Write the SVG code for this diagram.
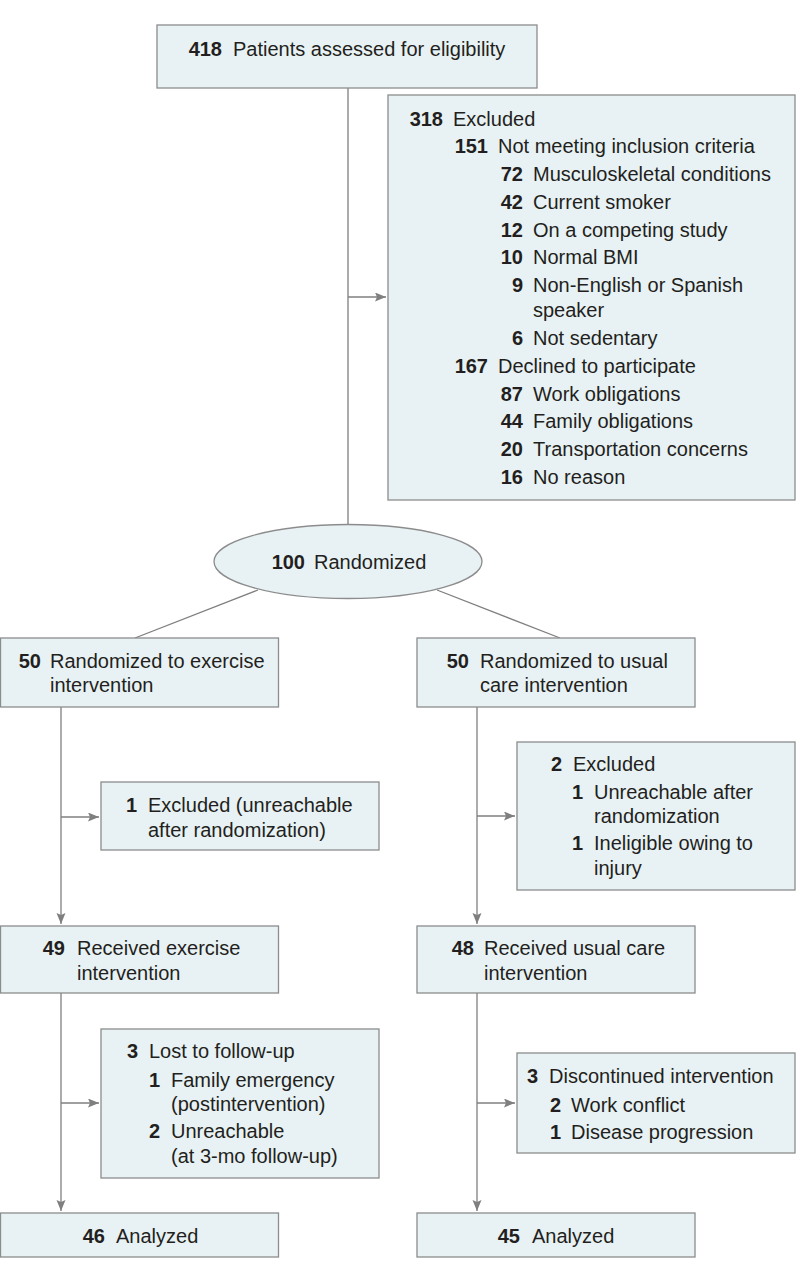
<svg xmlns="http://www.w3.org/2000/svg" width="798" height="1278" viewBox="0 0 798 1278">
<style>
.box{fill:#e8f2f4;stroke:#8c8c8c;stroke-width:1.3}
.ln{fill:none;stroke:#7f7f7f;stroke-width:1.3}
text{font-family:"Liberation Sans",Arial,sans-serif;font-size:20px;fill:#231f20}
.n{font-weight:bold;text-anchor:end}
</style>
<defs>
<marker id="ah" markerUnits="userSpaceOnUse" markerWidth="12" markerHeight="10" refX="11" refY="4.5" orient="auto">
<path d="M0,0 L11,4.5 L0,9 L2,4.5 z" fill="#7f7f7f"/>
</marker>
</defs>
<rect width="798" height="1278" fill="#ffffff"/>
<g id="connectors">
<line class="ln" x1="348" y1="88" x2="348" y2="524"/>
<line class="ln" x1="348" y1="297" x2="386" y2="297" marker-end="url(#ah)"/>
<line class="ln" x1="258" y1="590" x2="135" y2="638"/>
<line class="ln" x1="437" y1="590" x2="560" y2="638"/>
<line class="ln" x1="61" y1="707" x2="61" y2="924" marker-end="url(#ah)"/>
<line class="ln" x1="61" y1="817" x2="99" y2="817" marker-end="url(#ah)"/>
<line class="ln" x1="477" y1="707" x2="477" y2="924" marker-end="url(#ah)"/>
<line class="ln" x1="477" y1="816" x2="515" y2="816" marker-end="url(#ah)"/>
<line class="ln" x1="61" y1="993" x2="61" y2="1211" marker-end="url(#ah)"/>
<line class="ln" x1="61" y1="1103" x2="99" y2="1103" marker-end="url(#ah)"/>
<line class="ln" x1="477" y1="993" x2="477" y2="1211" marker-end="url(#ah)"/>
<line class="ln" x1="477" y1="1103" x2="515" y2="1103" marker-end="url(#ah)"/>
</g>
<g id="assessed">
<rect class="box" x="157" y="25" width="380" height="63"/>
<text class="n" x="222" y="56">418</text><text x="233" y="56">Patients assessed for eligibility</text>
</g>
<g id="excluded">
<rect class="box" x="388" y="95" width="407" height="405"/>
<text class="n" x="443" y="126">318</text><text x="453" y="126">Excluded</text>
<text class="n" x="488" y="153">151</text><text x="498" y="153">Not meeting inclusion criteria</text>
<text class="n" x="523" y="181">72</text><text x="533" y="181">Musculoskeletal conditions</text>
<text class="n" x="523" y="209">42</text><text x="533" y="209">Current smoker</text>
<text class="n" x="523" y="237">12</text><text x="533" y="237">On a competing study</text>
<text class="n" x="523" y="264">10</text><text x="533" y="264">Normal BMI</text>
<text class="n" x="523" y="292">9</text><text x="533" y="292">Non-English or Spanish</text>
<text x="533" y="317">speaker</text>
<text class="n" x="523" y="345">6</text><text x="533" y="345">Not sedentary</text>
<text class="n" x="488" y="373">167</text><text x="498" y="373">Declined to participate</text>
<text class="n" x="523" y="401">87</text><text x="533" y="401">Work obligations</text>
<text class="n" x="523" y="428">44</text><text x="533" y="428">Family obligations</text>
<text class="n" x="523" y="456">20</text><text x="533" y="456">Transportation concerns</text>
<text class="n" x="523" y="484">16</text><text x="533" y="484">No reason</text>
</g>
<g id="randomized">
<ellipse class="box" cx="348" cy="561.5" rx="134" ry="37"/>
<text class="n" x="305" y="569">100</text><text x="314" y="569">Randomized</text>
</g>
<g id="rand-exercise">
<rect class="box" x="0.5" y="638" width="278" height="69"/>
<text class="n" x="41" y="668">50</text><text x="50" y="668">Randomized to exercise</text>
<text x="50" y="692">intervention</text>
</g>
<g id="rand-usual">
<rect class="box" x="417" y="638" width="278" height="69"/>
<text class="n" x="469" y="668">50</text><text x="480" y="668">Randomized to usual</text>
<text x="480" y="692">care intervention</text>
</g>
<g id="excl-exercise">
<rect class="box" x="101" y="782" width="278" height="68"/>
<text class="n" x="137" y="812">1</text><text x="148" y="812">Excluded (unreachable</text>
<text x="148" y="837">after randomization)</text>
</g>
<g id="excl-usual">
<rect class="box" x="517" y="742" width="278" height="148"/>
<text class="n" x="562" y="771">2</text><text x="573" y="771">Excluded</text>
<text class="n" x="583" y="799">1</text><text x="594" y="799">Unreachable after</text>
<text x="594" y="823">randomization</text>
<text class="n" x="583" y="850">1</text><text x="594" y="850">Ineligible owing to</text>
<text x="594" y="875">injury</text>
</g>
<g id="recv-exercise">
<rect class="box" x="0.5" y="926" width="278" height="67"/>
<text class="n" x="65" y="955">49</text><text x="77" y="955">Received exercise</text>
<text x="77" y="980">intervention</text>
</g>
<g id="recv-usual">
<rect class="box" x="417" y="926" width="278" height="67"/>
<text class="n" x="474" y="955">48</text><text x="484" y="955">Received usual care</text>
<text x="484" y="980">intervention</text>
</g>
<g id="lost-exercise">
<rect class="box" x="101" y="1029" width="278" height="149"/>
<text class="n" x="138" y="1058">3</text><text x="149" y="1058">Lost to follow-up</text>
<text class="n" x="160" y="1087">1</text><text x="171" y="1087">Family emergency</text>
<text x="171" y="1111">(postintervention)</text>
<text class="n" x="160" y="1138">2</text><text x="171" y="1138">Unreachable</text>
<text x="171" y="1163">(at 3-mo follow-up)</text>
</g>
<g id="disc-usual">
<rect class="box" x="517" y="1053" width="278" height="100"/>
<text class="n" x="538" y="1083">3</text><text x="549" y="1083">Discontinued intervention</text>
<text class="n" x="561" y="1112">2</text><text x="571" y="1112">Work conflict</text>
<text class="n" x="561" y="1139">1</text><text x="571" y="1139">Disease progression</text>
</g>
<g id="analyzed-exercise">
<rect class="box" x="0.5" y="1213" width="278" height="44"/>
<text class="n" x="105" y="1243">46</text><text x="116" y="1243">Analyzed</text>
</g>
<g id="analyzed-usual">
<rect class="box" x="417" y="1213" width="278" height="44"/>
<text class="n" x="520" y="1243">45</text><text x="532" y="1243">Analyzed</text>
</g>
</svg>
